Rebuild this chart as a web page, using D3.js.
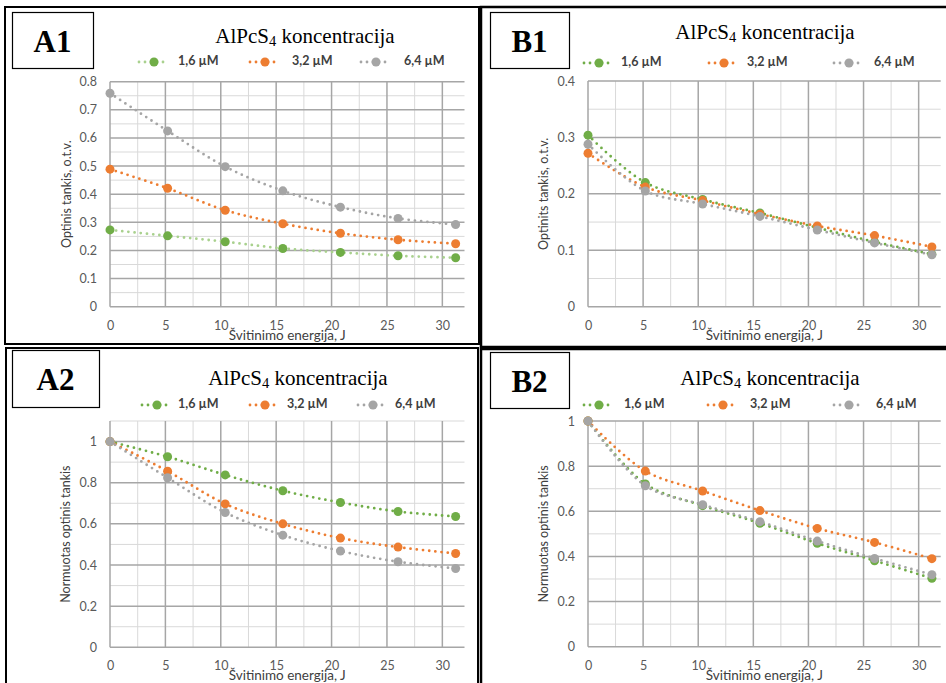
<!DOCTYPE html>
<html>
<head>
<meta charset="utf-8">
<script src="https://cdn.jsdelivr.net/npm/d3@7"></script>
<style>
  html, body { margin: 0; padding: 0; background: #fff; }
  svg { display: block; }
</style>
</head>
<body>
<svg id="fig" width="946" height="683"></svg>
<script>
// Irradiation energy (J) at each measurement
const energy = [0, 5.2, 10.4, 15.6, 20.8, 26, 31.2];

// Concentration series names
const seriesNames = ["1,6 µM", "3,2 µM", "6,4 µM"];

// A1: optical density
const a1Green  = [0.273, 0.252, 0.231, 0.207, 0.193, 0.181, 0.174];
const a1Orange = [0.489, 0.421, 0.343, 0.295, 0.261, 0.238, 0.224];
const a1Gray   = [0.759, 0.625, 0.498, 0.412, 0.354, 0.314, 0.292];

// A2: normalised optical density
const a2Green  = [1, 0.926, 0.838, 0.761, 0.704, 0.660, 0.636];
const a2Orange = [1, 0.856, 0.697, 0.600, 0.531, 0.487, 0.456];
const a2Gray   = [1, 0.824, 0.655, 0.545, 0.468, 0.416, 0.383];

// B1: optical density
const b1Green  = [0.304, 0.220, 0.190, 0.166, 0.140, 0.115, 0.093];
const b1Orange = [0.272, 0.212, 0.188, 0.164, 0.143, 0.126, 0.106];
const b1Gray   = [0.288, 0.205, 0.182, 0.160, 0.136, 0.113, 0.092];

// B2: normalised optical density
const b2Green  = [1, 0.721, 0.625, 0.547, 0.458, 0.381, 0.303];
const b2Orange = [1, 0.778, 0.690, 0.603, 0.524, 0.462, 0.390];
const b2Gray   = [1, 0.713, 0.629, 0.554, 0.468, 0.391, 0.319];

// Axis ticks
const xTicks = [0, 5, 10, 15, 20, 25, 30];
const xMinorTicks = [2.5, 7.5, 12.5, 17.5, 22.5, 27.5];
const yTicksA1 = [0, 0.1, 0.2, 0.3, 0.4, 0.5, 0.6, 0.7, 0.8];
const yMinorA1 = [0.05, 0.15, 0.25, 0.35, 0.45, 0.55, 0.65, 0.75];
const yTicksB1 = [0, 0.1, 0.2, 0.3, 0.4];
const yMinorB1 = [0.05, 0.15, 0.25, 0.35];
const yTicksNorm = [0, 0.2, 0.4, 0.6, 0.8, 1];
const yMinorNormA = [0.1, 0.3, 0.5, 0.7, 0.9, 1.1];
const yMinorNormB = [0.1, 0.3, 0.5, 0.7, 0.9];

// Text
const titleMain = "AlPcS";
const titleSub = "4";
const titleRest = " koncentracija";
const xTitle = "Švitinimo energija, J";

const colors = ["#70ad47", "#ed7d31", "#a5a5a5"];

const svg = d3.select("#fig");
const tickFont = "Lato, 'Open Sans', sans-serif";

function drawPanel(p) {
  const g = svg.append("g");

  // panel frame
  g.append("rect")
    .attr("x", p.frame[0]).attr("y", p.frame[1])
    .attr("width", p.frame[2]).attr("height", p.frame[3])
    .attr("fill", "none").attr("stroke", "#000").attr("stroke-width", p.frameW);

  // panel letter box
  g.append("rect")
    .attr("x", p.box[0] + 0.5).attr("y", p.box[1] + 0.5)
    .attr("width", p.box[2]).attr("height", p.box[3])
    .attr("fill", "#fff").attr("stroke", "#000").attr("stroke-width", 1.2);
  g.append("text")
    .attr("x", p.box[0] + p.box[2] / 2).attr("y", p.box[1] + 40)
    .attr("text-anchor", "middle")
    .attr("font-family", "'Liberation Serif', 'Times New Roman', serif")
    .attr("font-weight", "bold").attr("font-size", 31)
    .text(p.letter);

  // title with subscript
  const t = g.append("text")
    .attr("x", p.titleX).attr("y", p.titleY)
    .attr("text-anchor", "middle")
    .attr("font-family", "'Liberation Serif', 'Times New Roman', serif")
    .attr("font-size", 21).attr("fill", "#000");
  t.append("tspan").text(titleMain);
  t.append("tspan").attr("font-size", 14.5).attr("dy", 3).text(titleSub);
  t.append("tspan").attr("dy", -3).text(titleRest);

  const x = d3.scaleLinear().domain([0, 32]).range([p.plot.left, p.plot.right]);
  const y = d3.scaleLinear().domain(p.yDomain).range([p.plot.bottom, p.plot.top]);

  // minor grid
  const grid = g.append("g");
  grid.selectAll(".vmin").data(xMinorTicks).join("line")
    .attr("x1", d => x(d)).attr("x2", d => x(d))
    .attr("y1", p.plot.top).attr("y2", p.plot.bottom)
    .attr("stroke", "#d9d9d9").attr("stroke-width", 1);
  grid.selectAll(".hmin").data(p.yMinor).join("line")
    .attr("x1", p.plot.left).attr("x2", p.plot.right)
    .attr("y1", d => y(d)).attr("y2", d => y(d))
    .attr("stroke", "#d9d9d9").attr("stroke-width", 1);
  // major grid
  grid.selectAll(".vmaj").data(xTicks).join("line")
    .attr("x1", d => x(d)).attr("x2", d => x(d))
    .attr("y1", p.plot.top).attr("y2", p.plot.bottom)
    .attr("stroke", "#a6a6a6").attr("stroke-width", 1.5);
  grid.selectAll(".hmaj").data(p.yTicks).join("line")
    .attr("x1", p.plot.left).attr("x2", p.plot.right)
    .attr("y1", d => y(d)).attr("y2", d => y(d))
    .attr("stroke", "#a6a6a6").attr("stroke-width", 1.5);

  // axes (labels only, lines come from grid)
  const xAxis = g.append("g")
    .attr("transform", `translate(0,${p.plot.bottom})`)
    .call(d3.axisBottom(x).tickValues(xTicks).tickSize(0).tickPadding(14).tickFormat(d3.format("d")));
  const yAxis = g.append("g")
    .attr("transform", `translate(${p.plot.left},0)`)
    .call(d3.axisLeft(y).tickValues(p.yTicks).tickSize(0).tickPadding(13).tickFormat(d3.format("~g")));
  [xAxis, yAxis].forEach(a => {
    a.select(".domain").remove();
    a.selectAll("text")
      .attr("font-family", tickFont).attr("font-size", 12.5).attr("fill", "#595959");
  });

  // axis titles
  g.append("text")
    .attr("x", (p.plot.left + p.plot.right) / 2).attr("y", p.xTitleY)
    .attr("text-anchor", "middle")
    .attr("font-family", tickFont).attr("font-size", 13.5).attr("fill", "#404040")
    .text(xTitle);
  g.append("text")
    .attr("transform", `translate(${p.yTitleX},${(p.plot.top + p.plot.bottom) / 2}) rotate(-90)`)
    .attr("text-anchor", "middle").attr("dominant-baseline", "middle")
    .attr("font-family", tickFont).attr("font-size", 12.5).attr("fill", "#404040")
    .text(p.yTitle);

  // series
  const line = d3.line()
    .x((d, i) => x(energy[i]))
    .y(d => y(d))
    .curve(d3.curveCatmullRom.alpha(0.5));

  p.series.forEach((vals, k) => {
    const lc = p.lineColors[k];
    g.append("path")
      .attr("d", line(vals))
      .attr("fill", "none").attr("stroke", lc)
      .attr("stroke-width", 2.8).attr("stroke-linecap", "round")
      .attr("stroke-dasharray", "0,6.2");
    g.append("g").selectAll("circle").data(vals).join("circle")
      .attr("cx", (d, i) => x(energy[i])).attr("cy", d => y(d))
      .attr("r", 4.5).attr("fill", colors[k]);
  });

  // legend
  seriesNames.forEach((name, k) => {
    const mx = p.legendMarks[k];
    const lg = g.append("g");
    lg.append("line")
      .attr("x1", mx - 15).attr("x2", mx + 15)
      .attr("y1", p.legendY).attr("y2", p.legendY)
      .attr("stroke", p.lineColors[k]).attr("stroke-width", 2.8)
      .attr("stroke-linecap", "round").attr("stroke-dasharray", "0,6");
    lg.append("circle").attr("cx", mx).attr("cy", p.legendY).attr("r", 4.5).attr("fill", colors[k]);
    lg.append("text")
      .attr("x", p.legendText[k]).attr("y", p.legendY)
      .attr("dominant-baseline", "middle")
      .attr("font-family", tickFont).attr("font-weight", "bold")
      .attr("font-size", 12.5).attr("fill", "#404040")
      .text(name);
  });
}

const panels = [
  {
    letter: "A1", frame: [5, 7, 474, 337], frameW: 2, box: [12, 12, 81, 56],
    titleX: 305, titleY: 43,
    plot: { left: 110, right: 464.5, top: 81.7, bottom: 306.7 },
    yDomain: [0, 0.8], yTicks: yTicksA1, yMinor: yMinorA1,
    yTitle: "Optinis tankis, o.t.v.", yTitleX: 68, xTitleY: 340,
    series: [a1Green, a1Orange, a1Gray],
    lineColors: ["#a9d18e", "#ed7d31", "#a5a5a5"],
    legendY: 62, legendMarks: [154, 265, 376], legendText: [178, 292, 404]
  },
  {
    letter: "B1", frame: [481, 7, 470, 340], frameW: 2.5, box: [490, 12, 79, 56],
    titleX: 765, titleY: 39,
    plot: { left: 588, right: 940.7, top: 81, bottom: 306.7 },
    yDomain: [0, 0.4], yTicks: yTicksB1, yMinor: yMinorB1,
    yTitle: "Optinits tankis, o.t.v.", yTitleX: 545, xTitleY: 340,
    series: [b1Green, b1Orange, b1Gray],
    lineColors: colors,
    legendY: 63, legendMarks: [599, 724, 849], legendText: [621, 747, 874]
  },
  {
    letter: "A2", frame: [6, 348, 472, 340], frameW: 2, box: [12, 350, 87, 57],
    titleX: 298, titleY: 385,
    plot: { left: 110, right: 464.5, top: 421, bottom: 647.3 },
    yDomain: [0, 1.1], yTicks: yTicksNorm, yMinor: yMinorNormA,
    yTitle: "Normuotas optinis tankis", yTitleX: 67, xTitleY: 680,
    series: [a2Green, a2Orange, a2Gray],
    lineColors: colors,
    legendY: 405, legendMarks: [157, 265, 373], legendText: [178, 287, 395]
  },
  {
    letter: "B2", frame: [481, 349, 470, 340], frameW: 2.5, box: [490, 352, 79, 56],
    titleX: 770, titleY: 385,
    plot: { left: 588, right: 940.7, top: 421, bottom: 646.7 },
    yDomain: [0, 1], yTicks: yTicksNorm, yMinor: yMinorNormB,
    yTitle: "Normuotas optinis tankis", yTitleX: 545, xTitleY: 680,
    series: [b2Green, b2Orange, b2Gray],
    lineColors: colors,
    legendY: 405, legendMarks: [599, 723, 849], legendText: [624, 750, 876]
  }
];

panels.forEach(drawPanel);
</script>
</body>
</html>
